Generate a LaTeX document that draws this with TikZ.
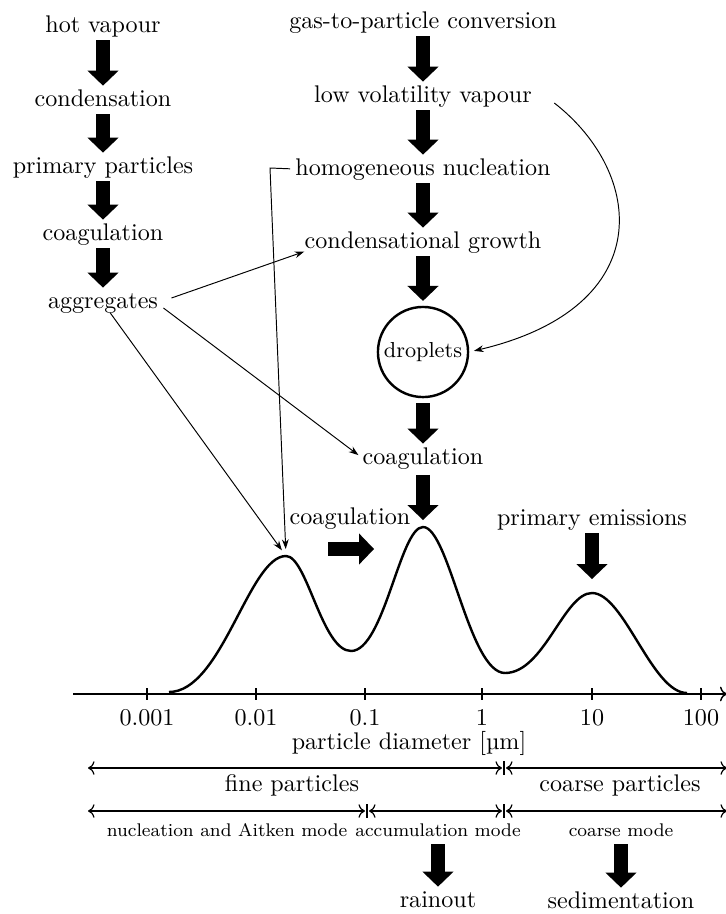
\documentclass[tikz,border=0pt]{standalone}
\usepackage{fontspec}
\usetikzlibrary{arrows.meta}

\begin{document}
\begin{tikzpicture}[x=0.415pt, y=-0.415pt,
        lbl/.style={inner sep=0pt, text height=1.5ex, text depth=.25ex},
        modelbl/.style={lbl, font=\fontsize{7.6}{9}\selectfont},
        fat/.style={line width=5.8pt, -{Triangle[width=12.9pt,length=6.2pt,line width=0pt]}, shorten <=2pt, shorten >=2pt},
        link/.style={-{Stealth[length=4pt,width=2.8pt]}},
        sizerange/.style={<->, line width=0.5pt}]
            \useasboundingbox (0,0) rectangle (725,914);

            \node[lbl] (hot) at (103,26) {hot vapour};
            \node[lbl] (cond) at (103,100) {condensation};
            \node[lbl] (prim) at (103,167) {primary particles};
            \node[lbl] (coagA) at (103,234) {coagulation};
            \node[lbl] (aggr) at (103,302) {aggregates};

            \node[lbl] (gas) at (423,22) {gas-to-particle conversion};
            \node[lbl] (low) at (423,96) {low volatility vapour};
            \node[lbl] (hom) at (423,169) {homogeneous nucleation};
            \node[lbl] (grow) at (423,242) {condensational growth};
            \node[draw, circle, line width=1pt, minimum size=37.4pt, inner sep=0pt, font=\small] (drop) at (423,352) {droplets};
            \node[lbl] (coagB) at (423,458) {coagulation};
            \node[lbl] (coagC) at (350,518) {coagulation};
            \node[lbl] (prem) at (592,519) {primary emissions};

            \coordinate (c0) at (169,692);
            \coordinate (pA) at (286,556);
            \coordinate (t1) at (351,651);
            \coordinate (pB) at (423,527);
            \coordinate (t2) at (505,673);
            \coordinate (pC) at (592,593);
            \coordinate (c1) at (687,693);

            \draw[line width=1pt] (c0) .. controls +(53,0) and +(-37,0) .. (pA)
                .. controls +(21,0) and +(-29,0) .. (t1)
                .. controls +(33,0) and +(-23,0) .. (pB)
                .. controls +(26,0) and +(-36,0) .. (t2)
                .. controls +(39,0) and +(-28,0) .. (pC)
                .. controls +(32,0) and +(-35,0) .. (c1);

            \coordinate (ax0) at (73,694);
            \coordinate (ax1) at (727,694);
            \draw[semithick, ->] (ax0) -- (ax1);
            \foreach \x/\v [count=\i] in {147/0.001, 256/0.01, 365/0.1, 482/1, 592/10, 701/100}
            {
                \draw[semithick] (\x,688) -- (\x,700);
                \node[lbl] (tick\i) at (\x,719) {\v};
            }
            \node[lbl] (axlbl) at (409,743) {particle diameter [µm]};

            \coordinate (r1a) at (88,768);
            \coordinate (r1b) at (502,768);
            \coordinate (r1c) at (506,768);
            \coordinate (r1d) at (727,768);
            \draw[sizerange] (r1a) -- (r1b);
            \draw[sizerange] (r1c) -- (r1d);
            \draw[line width=0.5pt] (504,761) -- (504,775);
            \node[lbl] (fine) at (292,785) {fine particles};
            \node[lbl] (coarse) at (620,785) {coarse particles};

            \coordinate (r2a) at (88,811);
            \coordinate (r2b) at (365,811);
            \coordinate (r2c) at (369,811);
            \coordinate (r2d) at (502,811);
            \coordinate (r2e) at (506,811);
            \coordinate (r2f) at (727,811);
            \draw[sizerange] (r2a) -- (r2b);
            \draw[sizerange] (r2c) -- (r2d);
            \draw[sizerange] (r2e) -- (r2f);
            \draw[line width=0.5pt] (367,804) -- (367,818);
            \draw[line width=0.5pt] (504,804) -- (504,818);
            \node[modelbl] (nucl) at (227,830) {nucleation and Aitken mode};
            \node[modelbl] (accu) at (438,830) {accumulation mode};
            \node[modelbl] (cmode) at (621,830) {coarse mode};
            \node[lbl] (rain) at (438,901) {rainout};
            \node[lbl] (sedi) at (621,902) {sedimentation};

            \draw[fat] (hot) -- (cond);
            \draw[fat] (cond) -- (prim);
            \draw[fat] (prim) -- (coagA);
            \draw[fat] (coagA) -- (aggr);

            \draw[fat] (gas) -- (low);
            \draw[fat] (low) -- (hom);
            \draw[fat] (hom) -- (grow);
            \draw[fat] (grow) -- (drop);
            \draw[fat] (drop) -- (coagB);
            \draw[fat, shorten <=3pt, shorten >=2.9pt] (coagB) -- (pB);
            \draw[fat, shorten >=5.8pt] (prem) -- (pC);

            \coordinate (sh0) at (328,549);
            \coordinate (sh1) at (374,549);
            \draw[fat, shorten <=0pt, shorten >=0pt] (sh0) -- (sh1);

            \draw[fat] (accu) -- (rain);
            \draw[fat] (cmode) -- (sedi);

            \coordinate (hbend) at (270,168);
            \draw[link] ([shift={(13,-4)}]aggr.east) -- (grow.south west);
            \draw[link, shorten >=2.9pt] ([shift={(7,1)}]aggr.south) -- (pA);
            \draw[link, shorten >=2pt] ([shift={(5,6)}]aggr.east) -- (coagB.west);
            \draw[link, shorten <=2pt, shorten >=2.9pt] (hom.west) -- (hbend) -- (pA);
            \draw[link, shorten >=2pt] ([shift={(22,7)}]low.east) .. controls +(90,70) and +(190,-45) .. (drop.east);
        \end{tikzpicture}
\end{document}
